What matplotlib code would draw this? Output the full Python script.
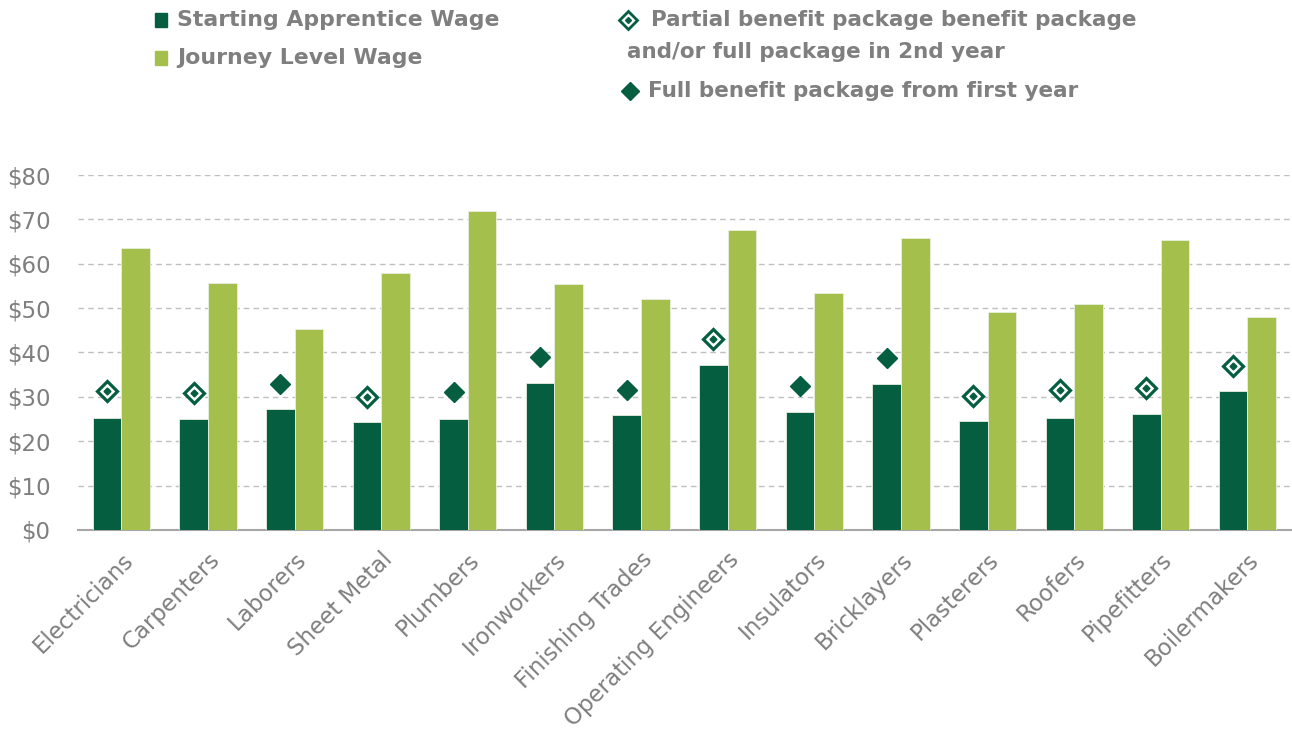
import numpy as np
import matplotlib
matplotlib.use('Agg')
import matplotlib.pyplot as plt
from matplotlib.lines import Line2D
from matplotlib.patches import Rectangle

plt.rcParams['font.family'] = ['DejaVu Sans']

# 各工种时薪（美元）
trades = ['Electricians', 'Carpenters', 'Laborers', 'Sheet Metal', 'Plumbers',
          'Ironworkers', 'Finishing Trades', 'Operating Engineers', 'Insulators',
          'Bricklayers', 'Plasterers', 'Roofers', 'Pipefitters', 'Boilermakers']
apprentice_wage = [25.2, 25.0, 27.3, 24.3, 25.0, 33.1, 25.9, 37.2, 26.6, 32.9,
                   24.6, 25.2, 26.1, 31.3]
journey_wage = [63.6, 55.7, 45.3, 57.9, 71.9, 55.4, 52.1, 67.6, 53.4, 65.8,
                49.1, 50.9, 65.4, 48.0]
# 含福利后的学徒时薪，及福利类型
benefit_wage = [31.3, 30.9, 32.9, 30.0, 31.1, 39.0, 31.5, 43.0, 32.5, 38.8,
                30.2, 31.5, 32.0, 37.0]
full_from_first_year = [False, False, True, False, True, True, True, False,
                        True, True, False, False, False, False]
yticks = [0, 10, 20, 30, 40, 50, 60, 70, 80]

DARK = '#045E3F'
LIGHT = '#A5BF4D'
GREY = '#7F7F7F'

fig = plt.figure(figsize=(12.92, 7.40), dpi=100)
ax = fig.add_axes([0.0604, 0.2838, 0.9386, 0.4797])

x = np.arange(len(trades))
w = 0.33
ax.bar(x - w / 2, apprentice_wage, w, color=DARK, edgecolor='#E8EFE0',
       linewidth=0.6, zorder=3)
ax.bar(x + w / 2, journey_wage, w, color=LIGHT, edgecolor='#E8EFE0',
       linewidth=0.6, zorder=3)

# 福利标记：实心菱形 = 首年全福利，空心带点 = 部分福利
bx = x - w / 2
full = np.array(full_from_first_year)
bw = np.array(benefit_wage)
ax.plot(bx[full], bw[full], 'D', color=DARK, markersize=10.5, zorder=4, linestyle='none')
ax.plot(bx[~full], bw[~full], 'D', mfc='white', mec=DARK, mew=2.3,
        markersize=10.5, zorder=4, linestyle='none')
ax.plot(bx[~full], bw[~full], 'D', color=DARK, markersize=3.5, zorder=5, linestyle='none')

ax.set_xlim(-0.5, len(trades) - 0.5)
ax.set_ylim(0, 80)
ax.set_yticks(yticks)
ax.set_yticklabels([f'${v}' for v in yticks], fontsize=16.5, color=GREY)
ax.yaxis.grid(True, linestyle=(0, (4, 3)), color='#BFBFBF', linewidth=1, zorder=0)
ax.tick_params(axis='y', length=0, pad=20)
ax.tick_params(axis='x', length=0, pad=13)
ax.set_xticks(x)
ax.set_xticklabels(trades, rotation=45, ha='right', rotation_mode='anchor',
                   fontsize=16.5, color=GREY)
for s in ['top', 'right', 'left']:
    ax.spines[s].set_visible(False)
ax.spines['bottom'].set_color('#A6A6A6')
ax.spines['bottom'].set_linewidth(1.5)


def fx(px):
    return px / 1292


def fy(py):
    return 1 - py / 740


# 图例（手工排布）
lw = 12 / 1292
lh = 14 / 740
for py, col, txt in [(20, DARK, 'Starting Apprentice Wage'),
                     (58, LIGHT, 'Journey Level Wage')]:
    fig.add_artist(Rectangle((fx(155), fy(py) - lh / 2), lw, lh, color=col,
                             transform=fig.transFigure))
    fig.text(fx(177), fy(py), txt, fontsize=15.8, fontweight='bold', color=GREY,
             va='center', ha='left')

fig.add_artist(Line2D([fx(628)], [fy(20)], marker='D', mfc='white', mec=DARK,
                      mew=2, markersize=9, transform=fig.transFigure))
fig.add_artist(Line2D([fx(628)], [fy(20)], marker='D', color=DARK,
                      markersize=3, transform=fig.transFigure))
fig.text(fx(651), fy(20), 'Partial benefit package benefit package',
         fontsize=15.5, fontweight='bold', color=GREY, va='center', ha='left')
fig.text(fx(627), fy(52), 'and/or full package in 2nd year',
         fontsize=15.5, fontweight='bold', color=GREY, va='center', ha='left')
fig.add_artist(Line2D([fx(630)], [fy(91)], marker='D', color=DARK,
                      markersize=9, transform=fig.transFigure))
fig.text(fx(648), fy(91), 'Full benefit package from first year',
         fontsize=15.5, fontweight='bold', color=GREY, va='center', ha='left')

fig.savefig('out.png', dpi=100)
